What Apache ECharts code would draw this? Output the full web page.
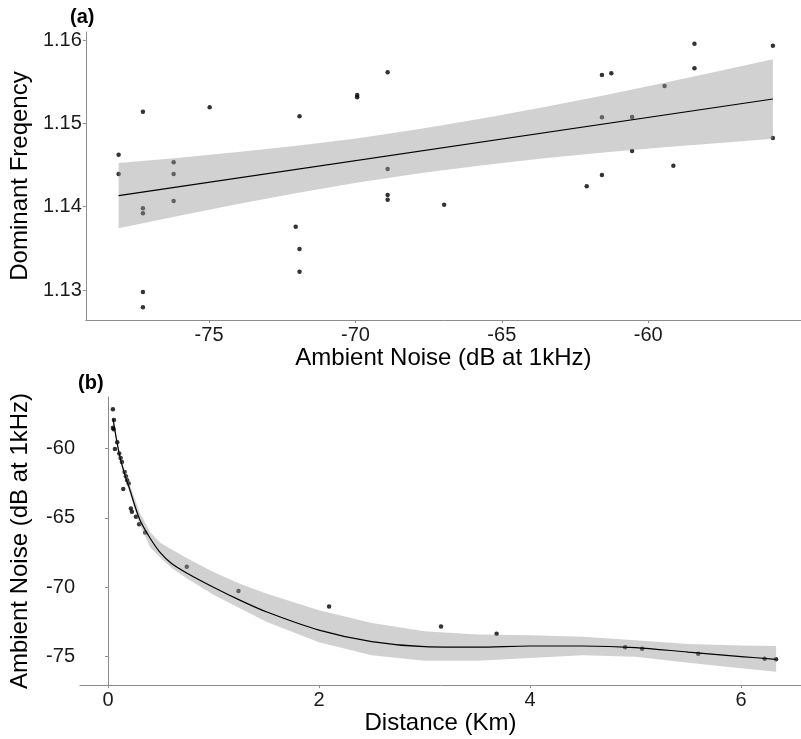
<!DOCTYPE html>
<html>
<head>
<meta charset="utf-8">
<script src="https://cdn.jsdelivr.net/npm/echarts@6/dist/echarts.min.js"></script>
<style>
  html, body { margin: 0; padding: 0; background: #fff; }
  #chart { width: 801px; height: 739px; }
</style>
</head>
<body>
<div id="chart"></div>
<script>
// (a) dominant frequency vs ambient noise
const noiseA = [-78.09, -78.09, -77.26, -77.26, -77.26, -77.26, -77.26, -76.21, -76.21, -76.21,
  -74.98, -71.91, -72.04, -71.91, -71.91, -69.94, -69.94, -68.9, -68.9, -68.9, -68.9, -66.97,
  -58.42, -55.74, -61.58, -61.26, -58.42, -59.44, -61.58, -60.55, -60.55, -59.14, -61.58, -62.1, -55.74];
const freqA = [1.14624, 1.14392, 1.1514, 1.1398, 1.1392, 1.12976, 1.12792, 1.14532, 1.14392, 1.14068,
  1.15192, 1.15084, 1.1376, 1.13492, 1.1322, 1.1534, 1.15312, 1.15612, 1.14452, 1.1414, 1.14084, 1.14024,
  1.15956, 1.15932, 1.1558, 1.156, 1.1566, 1.15448, 1.15072, 1.15076, 1.14668, 1.14492, 1.1438, 1.14244, 1.14824];
const fitAX = [-78.09, -55.74];
const fitAY = [1.14132, 1.15292];
const ciAX = [-78.09, -76.19, -74.1, -72.0, -69.91, -67.81, -65.72, -63.63, -61.53, -59.44, -57.34, -55.74];
const ciALow = [1.1374, 1.13878, 1.14026, 1.14164, 1.1429, 1.14401, 1.14494, 1.14577, 1.14649, 1.14712, 1.14771, 1.14814];
const ciAHigh = [1.14524, 1.14582, 1.14652, 1.1473, 1.14822, 1.14931, 1.15054, 1.15189, 1.15335, 1.15488, 1.15647, 1.1577];
const ticksAX = [-75, -70, -65, -60];
const ticksAY = [1.13, 1.14, 1.15, 1.16];

// (b) ambient noise vs distance
const distB = [0.047, 0.057, 0.047, 0.054, 0.088, 0.066, 0.107, 0.12, 0.132, 0.158, 0.17, 0.182, 0.196, 0.145,
  0.217, 0.227, 0.265, 0.296, 0.353, 0.747, 1.237, 2.096, 3.157, 3.684, 4.902, 5.063, 5.595, 6.224, 6.333];
const noiseB = [-57.17, -57.94, -58.49, -58.61, -59.55, -60.03, -60.36, -60.68, -60.96, -61.68, -61.99, -62.28, -62.52, -62.91,
  -64.32, -64.56, -64.92, -65.45, -66.05, -68.52, -70.27, -71.38, -72.82, -73.35, -74.31, -74.43, -74.79, -75.15, -75.19];
const fitBX = [0.047, 0.1, 0.15, 0.2, 0.3, 0.4, 0.5, 0.6, 0.75, 1.0, 1.25, 1.5, 2.0, 2.5, 3.0, 3.5, 4.0, 4.5, 5.0, 5.5, 6.0, 6.333];
const fitBY = [-57.82, -60.12, -61.63, -62.79, -65.09, -66.46, -67.54, -68.26, -68.98, -69.99, -70.92, -71.76,
  -73.08, -73.91, -74.27, -74.31, -74.23, -74.23, -74.34, -74.67, -74.99, -75.19];
const ciBHigh = [-57.6, -59.83, -61.35, -62.43, -64.59, -66.03, -66.81, -67.25, -67.91, -68.9, -69.74, -70.45,
  -71.66, -72.57, -73.17, -73.4, -73.46, -73.56, -73.81, -74.08, -74.2, -74.23];
const ciBLow = [-58.03, -60.41, -61.92, -63.07, -65.45, -67.11, -67.89, -68.58, -69.36, -70.53, -71.51, -72.48,
  -73.95, -74.9, -75.29, -75.29, -75.1, -74.9, -75.01, -75.43, -75.83, -76.08];
const ticksBX = [0, 2, 4, 6];
const ticksBY = [-75, -70, -65, -60];

const font = '"Liberation Sans", Arial, sans-serif';
const axisGrey = '#8c8c8c';

function axis(gridIndex, min, max, ticks, name, nameGap, extra) {
  return Object.assign({
    gridIndex: gridIndex,
    type: 'value',
    min: min,
    max: max,
    name: name,
    nameLocation: 'middle',
    nameGap: nameGap,
    nameTextStyle: { fontSize: 24, color: '#000', fontFamily: font },
    axisLine: { lineStyle: { color: axisGrey, width: 1 } },
    axisTick: { length: 3, customValues: ticks, lineStyle: { color: axisGrey } },
    axisLabel: { customValues: ticks, fontSize: 20, color: '#1a1a1a', fontFamily: font, margin: 5 },
    splitLine: { show: false }
  }, extra || {});
}

// confidence ribbon drawn as one polygon through the axis scales
function band(xs, lo, hi, xi, yi) {
  return {
    type: 'custom',
    xAxisIndex: xi,
    yAxisIndex: yi,
    z: 3,
    silent: true,
    data: xs.map((x, i) => [x, lo[i], hi[i]]),
    encode: { x: 0, y: [1, 2] },
    renderItem: function (params, api) {
      if (params.dataIndex !== 0) return null;
      const pts = [];
      for (let i = 0; i < xs.length; i++) pts.push(api.coord([xs[i], hi[i]]));
      for (let i = xs.length - 1; i >= 0; i--) pts.push(api.coord([xs[i], lo[i]]));
      return { type: 'polygon', shape: { points: pts }, style: { fill: 'rgba(153,153,153,0.45)' } };
    }
  };
}

const chart = echarts.init(document.getElementById('chart'));
chart.setOption({
  animation: false,
  backgroundColor: '#fff',
  title: [
    { text: '(a)', left: 70, top: 7, padding: 0, textStyle: { fontSize: 20, fontWeight: 'bold', color: '#000', fontFamily: font } },
    { text: '(b)', left: 78, top: 373, padding: 0, textStyle: { fontSize: 20, fontWeight: 'bold', color: '#000', fontFamily: font } }
  ],
  grid: [
    { left: 78, top: 32, width: 723, height: 288 },
    { left: 78, top: 397, width: 723, height: 288 }
  ],
  xAxis: [
    axis(0, -79.21, -54.78, ticksAX, 'Ambient Noise (dB at 1kHz)', 22),
    axis(1, -0.265, 6.569, ticksBX, 'Distance (Km)', 22)
  ],
  yAxis: [
    axis(0, 1.1264, 1.16096, ticksAY, 'Dominant Freqency', 48, {
      axisLabel: { customValues: ticksAY, fontSize: 20, color: '#1a1a1a', fontFamily: font, margin: 4,
        formatter: v => v.toFixed(2) }
    }),
    axis(1, -77.04, -56.28, ticksBY, 'Ambient Noise (dB at 1kHz)', 48)
  ],
  series: [
    {
      type: 'scatter', xAxisIndex: 0, yAxisIndex: 0, z: 2,
      symbolSize: 4.5, itemStyle: { color: '#000' },
      data: noiseA.map((x, i) => [x, freqA[i]])
    },
    band(ciAX, ciALow, ciAHigh, 0, 0),
    {
      type: 'line', xAxisIndex: 0, yAxisIndex: 0, z: 4, symbol: 'none',
      lineStyle: { color: '#000', width: 1.2 },
      data: fitAX.map((x, i) => [x, fitAY[i]])
    },
    {
      type: 'scatter', xAxisIndex: 1, yAxisIndex: 1, z: 2,
      symbolSize: 4.5, itemStyle: { color: '#000' },
      data: distB.map((x, i) => [x, noiseB[i]])
    },
    band(fitBX, ciBLow, ciBHigh, 1, 1),
    {
      type: 'line', xAxisIndex: 1, yAxisIndex: 1, z: 4, symbol: 'none', smooth: 0.3,
      lineStyle: { color: '#000', width: 1.2 },
      data: fitBX.map((x, i) => [x, fitBY[i]])
    }
  ]
});
</script>
</body>
</html>
